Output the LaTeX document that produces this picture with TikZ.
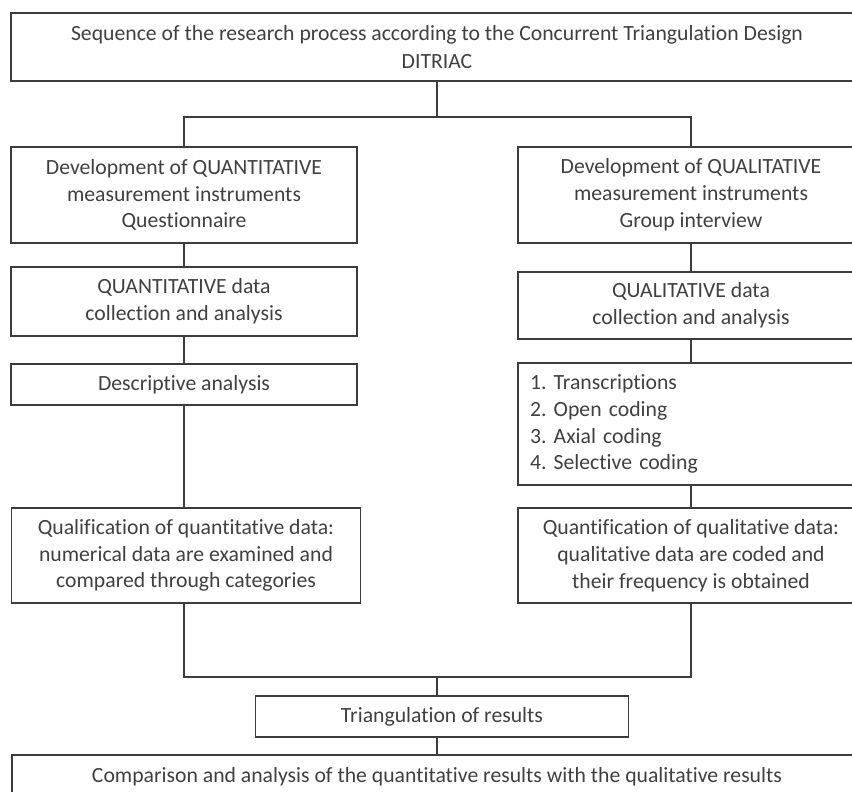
\documentclass[tikz,border=0pt]{standalone}
\usepackage{fontspec}
\setmainfont[Ligatures=NoCommon]{Carlito}
\definecolor{linec}{HTML}{3C3C3C}
\definecolor{textc}{HTML}{404040}
\newcommand{\diafont}{\fontsize{21.7pt}{26.8pt}\selectfont}
\begin{document}
\begin{tikzpicture}[x=1pt,y=-1pt,
  box/.style={draw=linec, line width=1.2pt, inner sep=0pt, align=center,
              text=textc, font=\diafont},
  conn/.style={draw=linec, line width=1.2pt}]
\useasboundingbox (0,0) rectangle (852,792);
\fill[white] (0,0) rectangle (852,792);

\node[box, minimum width=852pt, minimum height=68pt] (top) at (437,47)
  {Sequence of the research process according to the Concurrent Triangulation Design\\[1.5pt]DITRIAC};

\node[box, minimum width=346pt, minimum height=96pt] (L1) at (184,195)
  {Development of QUANTITATIVE\\measurement instruments\\Questionnaire};
\node[box, minimum width=346pt, minimum height=96pt] (R1) at (691,195)
  {Development of QUALITATIVE\\measurement instruments\\Group interview};

\node[box, minimum width=346pt, minimum height=69pt] (L2) at (184,301.5)
  {QUANTITATIVE data\\collection and analysis};
\node[box, minimum width=346pt, minimum height=67pt] (R2) at (691,305.5)
  {QUALITATIVE data\\collection and analysis};

\node[box, minimum width=346pt, minimum height=41pt] (L3) at (184,384.5)
  {Descriptive analysis};
\node[box, align=left, text width=322pt, inner xsep=12pt, minimum height=122pt] (R3) at (691,424)
  {1.\ Transcriptions\\2.\ Open coding\\3.\ Axial coding\\4.\ Selective coding};

\node[box, minimum width=349pt, minimum height=95pt] (L4) at (186,555.5)
  {Qualification of quantitative data:\\numerical data are examined and\\compared through categories};
\node[box, minimum width=346pt, minimum height=95pt] (R4) at (691,555.5)
  {Quantification of qualitative data:\\qualitative data are coded and\\their frequency is obtained};

\node[box, minimum width=373pt, minimum height=41pt] (tri) at (442,716.5)
  {Triangulation of results};
\node[box, minimum width=850pt, minimum height=44pt] (bot) at (437,777)
  {Comparison and analysis of the quantitative results with the qualitative results};

\coordinate (jt) at (437,117);
\coordinate (jb) at (437,677);

\draw[conn] (top.south) -- (jt);
\draw[conn] (L1.north) |- (jt) -| (R1.north);
\draw[conn] (L1.south) -- (L2.north);
\draw[conn] (L2.south) -- (L3.north);
\draw[conn] (L3.south) -- (L3.south |- L4.north);
\draw[conn] (R1.south) -- (R2.north);
\draw[conn] (R2.south) -- (R3.north);
\draw[conn] (R3.south) -- (R4.north);
\draw[conn] (L3.south |- L4.south) |- (jb) -| (R4.south);
\draw[conn] (jb) -- (jb |- tri.north);
\draw[conn] (tri.south -| jb) -- (bot.north -| jb);
\end{tikzpicture}
\end{document}
